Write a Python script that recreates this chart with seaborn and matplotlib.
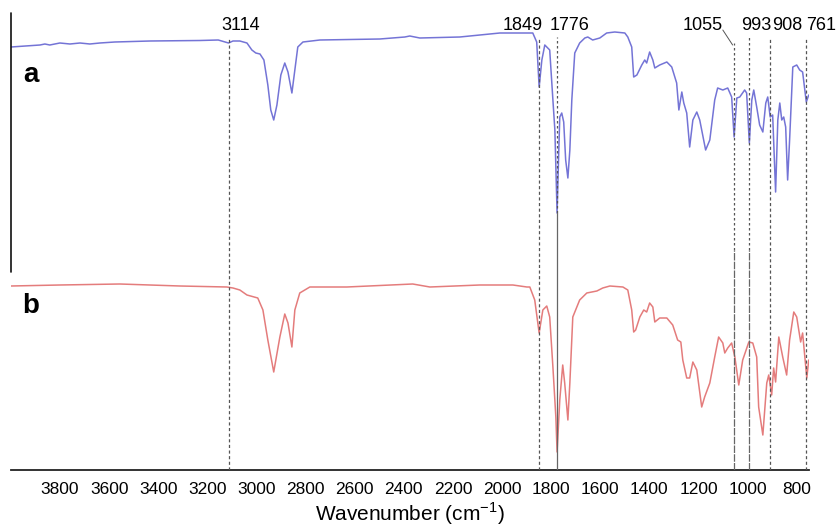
import numpy as np
import pandas as pd
import matplotlib
matplotlib.use("Agg")
import matplotlib.pyplot as plt
import seaborn as sns

# ---- data (transmittance in arbitrary offset units) ----
wn_a = [4000, 3882, 3862, 3842, 3801, 3760, 3719, 3679, 3638, 3577, 3434, 3231, 3156,
        3114, 3096, 3068, 3039, 3019, 3003, 2986, 2970, 2954, 2942, 2930, 2917, 2901,
        2885, 2872, 2856, 2844, 2832, 2811, 2742, 2498, 2396, 2376, 2335, 2172, 2009,
        1928, 1875, 1859, 1849, 1838, 1826, 1806, 1793, 1785, 1776, 1769, 1765, 1757,
        1749, 1741, 1732, 1724, 1716, 1704, 1684, 1663, 1651, 1631, 1602, 1574, 1541,
        1500, 1488, 1472, 1464, 1451, 1431, 1419, 1411, 1399, 1386, 1378, 1358, 1329,
        1309, 1289, 1280, 1268, 1260, 1248, 1236, 1223, 1207, 1195, 1171, 1154, 1134,
        1122, 1101, 1081, 1065, 1055, 1044, 1032, 1012, 1004, 993, 983, 975, 963, 951,
        938, 926, 918, 908, 898, 886, 877, 869, 861, 853, 845, 837, 829, 816, 800, 788,
        776, 761, 751]
tr_a = [423, 425, 426, 425, 427, 426, 427, 426, 427, 428, 429, 429.5, 430,
        427, 429, 429, 427, 420, 417, 416, 410, 385, 360, 350, 365, 395,
        407, 398, 377, 400, 423, 428, 430, 431, 433, 434, 432, 433, 437,
        437, 437, 428, 383, 410, 425, 420, 370, 340, 257, 320, 353, 357,
        348, 310, 292, 320, 370, 417, 427, 432, 433, 430, 432, 437, 438,
        437, 433, 423, 393, 395, 405, 410, 407, 418, 410, 402, 405, 408,
        403, 387, 360, 378, 367, 357, 323, 350, 358, 350, 320, 330, 370,
        382, 380, 382, 373, 333, 372, 373, 380, 377, 327, 370, 380, 363, 345,
        338, 367, 373, 353, 355, 278, 350, 367, 350, 353, 343, 290, 330, 403, 405, 400,
        398, 368, 375]

wn_b = [4000, 3801, 3557, 3312, 3121, 3096, 3068, 3039, 2995, 2974, 2954, 2930, 2905,
        2885, 2872, 2856, 2844, 2824, 2783, 2632, 2364, 2294, 2091, 1956, 1899, 1887,
        1867, 1849, 1834, 1818, 1806, 1793, 1781, 1776, 1765, 1753, 1745, 1732, 1724,
        1712, 1684, 1655, 1614, 1590, 1561, 1508, 1488, 1472, 1464, 1456, 1439, 1423,
        1411, 1399, 1386, 1378, 1358, 1329, 1305, 1285, 1272, 1264, 1248, 1236, 1223,
        1207, 1187, 1175, 1154, 1134, 1118, 1101, 1093, 1081, 1065, 1052, 1036, 1020,
        995, 979, 963, 955, 938, 922, 914, 902, 894, 886, 873, 857, 841, 829, 812,
        800, 784, 776, 759, 751]
tr_b = [184, 185, 186, 184, 183, 182, 180, 175, 172, 160, 130, 98, 133,
        156, 147, 123, 160, 177, 183, 183, 186, 183, 185, 185, 183, 183,
        170, 137, 160, 164, 153, 103, 53, 18, 70, 105, 87, 50, 87,
        153, 170, 177, 179, 182, 184, 183, 180, 160, 138, 140, 153, 160,
        158, 167, 163, 148, 152, 152, 145, 130, 128, 110, 92, 92, 108,
        100, 63, 73, 87, 113, 133, 127, 117, 122, 127, 113, 85, 110,
        128, 127, 113, 63, 35, 87, 95, 75, 102, 88, 133, 113, 95, 130, 158,
        153, 128, 137, 92, 110]

peaks = [3114, 1849, 1776, 1055, 993, 908, 761]
peak_labels = ["3114", "1849", "1776", "1055", "993", "908", "761"]
label_wn = [3064, 1916, 1724, 1183, 963, 837, 702]
x_ticks = list(range(800, 3801, 200))

# ---- build table ----
df = pd.concat([
    pd.DataFrame({"wn": wn_a, "T": tr_a, "spectrum": "a"}),
    pd.DataFrame({"wn": wn_b, "T": tr_b, "spectrum": "b"}),
], ignore_index=True)

sns.set_style("white")
plt.rcParams["font.family"] = ["Liberation Sans", "DejaVu Sans"]
plt.rcParams["mathtext.fontset"] = "custom"
plt.rcParams["mathtext.rm"] = "Liberation Sans"
plt.rcParams["text.color"] = "black"

fig = plt.figure(figsize=(8.37, 5.29), dpi=100)
ax = fig.add_axes([11 / 837, 1 - 470 / 529, 798 / 837, 457 / 529])

sns.lineplot(data=df, x="wn", y="T", hue="spectrum",
             palette={"a": "#7474d6", "b": "#e47c7c"},
             sort=False, estimator=None, legend=False, linewidth=1.1, ax=ax)

ax.set_xlim(4000, 750)
ax.set_ylim(0, 457)

# reference lines
gray = "#555555"
top = 433
for p in peaks:
    t = 427 if p == 1055 else top
    if p in (1776,):
        ax.plot([p, p], [257, t], ls=(0, (2, 2)), color=gray, lw=0.9, zorder=3)
        ax.plot([p, p], [0, 257], ls="-", color="#666666", lw=0.9, zorder=3)
    elif p in (1055, 993):
        ax.plot([p, p], [220, t], ls=(0, (2, 2)), color=gray, lw=0.9, zorder=3)
        ax.plot([p, p], [0, 220], ls=(0, (6, 1)), color="#666666", lw=0.9, zorder=3)
    else:
        ax.plot([p, p], [0, t], ls=(0, (2.5, 2)), color=gray, lw=0.9, zorder=3)

for lab, lx in zip(peak_labels, label_wn):
    ax.text(lx, 445, lab, ha="center", va="center", fontsize=13, color="black",
            clip_on=False)

# leader for 1055
ax.plot([1101, 1061], [440, 425], color="#555555", lw=0.7, clip_on=False)

ax.text(3920, 395, "a", fontsize=20, fontweight="bold", ha="center", va="center",
        color="black")
ax.text(3920, 164, "b", fontsize=20, fontweight="bold", ha="center", va="center",
        color="black")

# axes styling
for s in ["top", "right", "left"]:
    ax.spines[s].set_visible(False)
ax.spines["bottom"].set_linewidth(1.3)
ax.spines["bottom"].set_color("#222222")
ax.plot([0, 0], [(470 - 272) / 457, 1.0], transform=ax.transAxes, color="#111111",
        lw=1.2, clip_on=False)

ax.set_xticks(x_ticks)
ax.set_xticks(list(range(800, 4000, 100)), minor=True)
ax.set_xticklabels([str(t) for t in x_ticks])
ax.tick_params(axis="x", which="major", direction="in", length=3, width=0.8,
               labelsize=12.5, pad=9, colors="#777777", labelcolor="black")
ax.tick_params(axis="x", which="minor", direction="in", length=2, width=0.6,
               colors="#999999")
ax.set_yticks([])
ax.set_ylabel("")
ax.set_xlabel("Wavenumber (cm$^{\\mathregular{-1}}$)", fontsize=15, color="black")
ax.xaxis.set_label_coords(0.5, -(500 - 470) / 457)

fig.savefig("out.png", dpi=100)
